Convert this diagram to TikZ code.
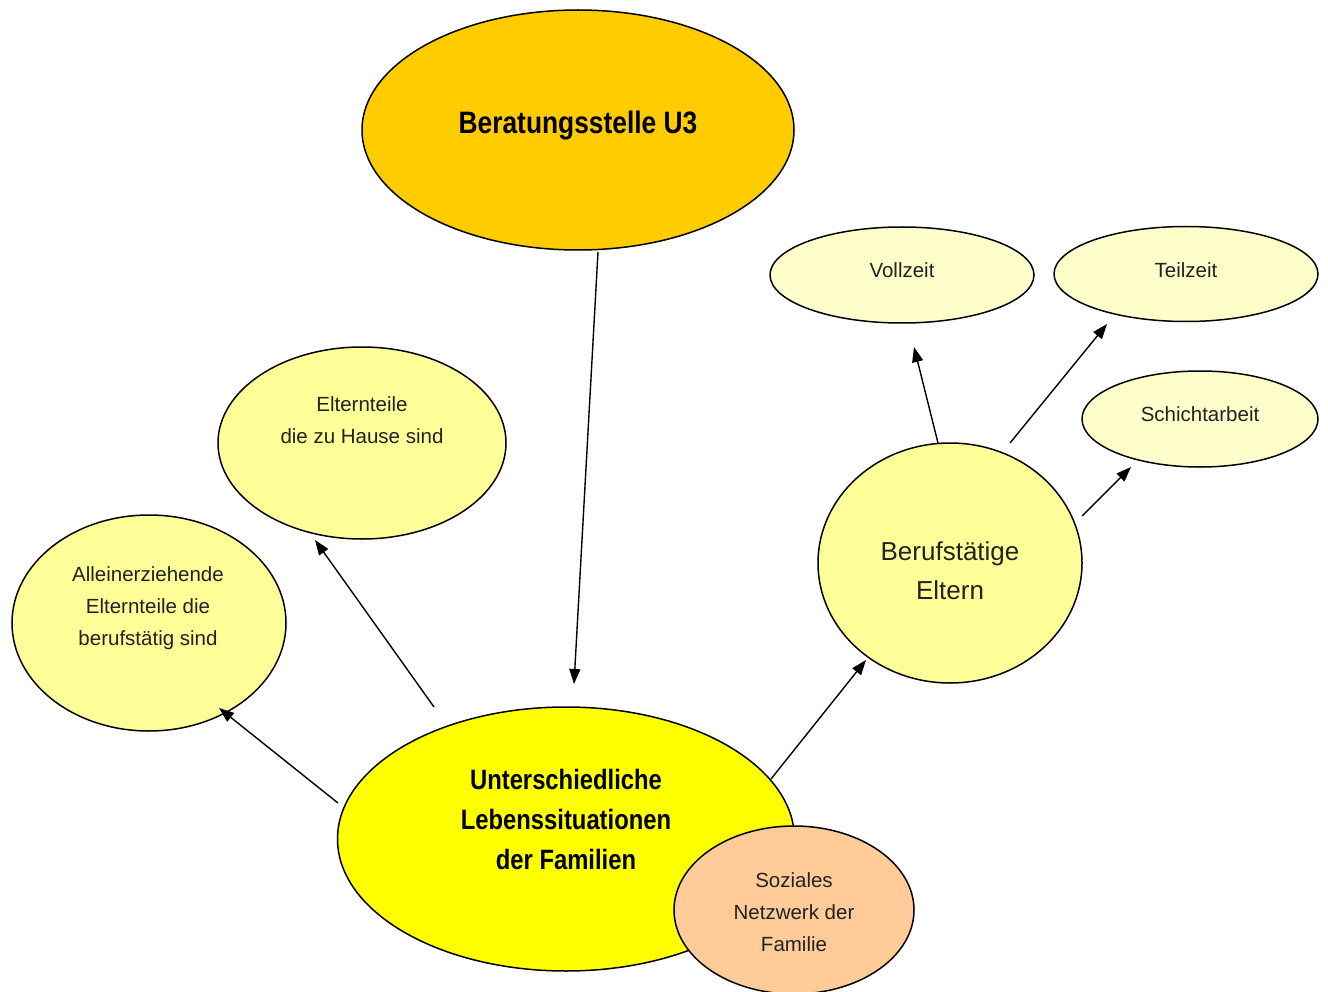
\documentclass[tikz,border=0pt]{standalone}
\usepackage{fontspec}
\setmainfont{Liberation Sans}
\newfontfamily\boldcond{Liberation Sans}[FakeStretch=0.85,UprightFont=*-Bold]
\usetikzlibrary{shapes.geometric,arrows.meta}
\definecolor{orangeY}{HTML}{FFCC00}
\definecolor{paleY}{HTML}{FFFFCC}
\definecolor{midY}{HTML}{FFFF99}
\definecolor{pureY}{HTML}{FFFF00}
\definecolor{peach}{HTML}{FFCC99}
\definecolor{txt}{HTML}{222222}
\tikzset{
  bubble/.style={ellipse, draw=black, line width=1.5pt, inner sep=0pt},
  lab/.style={align=center, text=txt, font=\fontsize{20.5}{32}\selectfont},
  conn/.style={line width=1.4pt, -{Triangle[length=15pt,width=11pt]}},
}
\begin{document}
\begin{tikzpicture}[x=1pt,y=-1pt]
\useasboundingbox (0,0) rectangle (1328,992);
\clip (0,0) rectangle (1328,992);
% ellipses
\node[bubble, fill=orangeY, minimum width=432pt, minimum height=240pt] (bs) at (578,130) {};
\node[bubble, fill=paleY, minimum width=264pt, minimum height=96pt] (vz) at (902,275) {};
\node[bubble, fill=paleY, minimum width=264pt, minimum height=95pt] (tz) at (1186,274) {};
\node[bubble, fill=paleY, minimum width=236pt, minimum height=96pt] (sa) at (1200,419) {};
\node[bubble, fill=midY, minimum width=288pt, minimum height=192pt] (eh) at (362,443) {};
\node[bubble, fill=midY, minimum width=274pt, minimum height=216pt] (ae) at (149,623) {};
\node[bubble, fill=midY, minimum width=264pt, minimum height=240pt] (be) at (950,563) {};
\node[bubble, fill=pureY, minimum width=457pt, minimum height=264pt] (ul) at (566,839) {};
\node[bubble, fill=peach, minimum width=240pt, minimum height=168pt] (sn) at (794,910) {};
% texts
\node[font=\boldcond\fontsize{31}{36}\selectfont] (bst) at (578,126) {Beratungsstelle U3};
\node[lab] (vzt) at (902,270) {Vollzeit};
\node[lab] (tzt) at (1186,270) {Teilzeit};
\node[lab] (sat) at (1200,414) {Schichtarbeit};
\node[lab] (eht) at (362,420) {Elternteile\\die zu Hause sind};
\node[lab] (aet) at (148,608) {Alleinerziehende\\Elternteile die\\berufstätig sind};
\node[lab, font=\fontsize{26}{39}\selectfont] (bet) at (950,571) {Berufstätige\\Eltern};
\node[align=center, font=\boldcond\fontsize{28}{40}\selectfont] (ult) at (566,819) {Unterschiedliche\\Lebenssituationen\\der Familien};
\node[lab] (snt) at (794,912) {Soziales\\Netzwerk der\\Familie};
% connector end points
\coordinate (a1) at (598,252); \coordinate (a2) at (574,684);
\coordinate (b1) at (434,707); \coordinate (b2) at (315,540);
\coordinate (c1) at (338,803); \coordinate (c2) at (219,708);
\coordinate (d1) at (771,779); \coordinate (d2) at (866,660);
\coordinate (e1) at (938,443); \coordinate (e2) at (914,347);
\coordinate (f1) at (1010,443); \coordinate (f2) at (1107,324);
\coordinate (g1) at (1082,516); \coordinate (g2) at (1131,467);
\draw[conn] (a1) -- (a2);
\draw[conn] (b1) -- (b2);
\draw[conn] (c1) -- (c2);
\draw[conn] (d1) -- (d2);
\draw[conn] (e1) -- (e2);
\draw[conn] (f1) -- (f2);
\draw[conn] (g1) -- (g2);
\end{tikzpicture}
\end{document}
